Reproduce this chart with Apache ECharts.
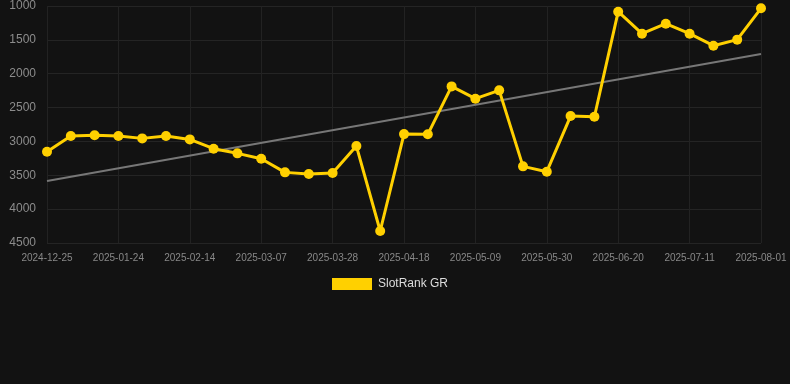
<!DOCTYPE html>
<html>
<head>
<meta charset="utf-8">
<script src="https://cdn.jsdelivr.net/npm/echarts@6/dist/echarts.min.js"></script>
<style>
html,body{margin:0;padding:0;background:#121212;}
#chart{width:790px;height:384px;}
</style>
</head>
<body>
<div id="chart"></div>
<script>
const dates = ['2024-12-25','2025-01-10','2025-01-17','2025-01-24','2025-01-31','2025-02-07','2025-02-14','2025-02-21','2025-02-28','2025-03-07','2025-03-14','2025-03-21','2025-03-28','2025-04-04','2025-04-11','2025-04-18','2025-04-25','2025-05-02','2025-05-09','2025-05-16','2025-05-23','2025-05-30','2025-06-06','2025-06-13','2025-06-20','2025-06-27','2025-07-04','2025-07-11','2025-07-18','2025-07-25','2025-08-01'];
const rank = [3152,2920,2910,2920,2955,2920,2970,3107,3176,3255,3457,3481,3467,3068,4323,2892,2895,2187,2369,2246,3368,3447,2625,2635,1084,1409,1261,1409,1586,1497,1034];
const trendStart = 3585;
const trendEnd = 1709;
const seriesName = 'SlotRank GR';

const chart = echarts.init(document.getElementById('chart'));
chart.setOption({
  backgroundColor: '#121212',
  animation: false,
  grid: {left: 47, right: 29, top: 6, bottom: 141},
  legend: {
    data: [seriesName],
    top: 273, left: 327,
    itemWidth: 40, itemHeight: 12,
    icon: 'rect',
    textStyle: {color: '#dddddd', fontSize: 12, padding: [0, 0, 0, 1], fontFamily: 'Arial, Liberation Sans, sans-serif'}
  },
  xAxis: {
    type: 'category',
    data: dates,
    boundaryGap: false,
    axisLine: {show: false},
    axisTick: {show: false},
    axisLabel: {interval: 2, color: '#888888', fontSize: 10, margin: 10, fontFamily: 'Arial, Liberation Sans, sans-serif'},
    splitLine: {show: true, interval: 2, lineStyle: {color: '#222222', width: 1}}
  },
  yAxis: {
    type: 'value',
    inverse: true,
    min: 1000, max: 4500, interval: 500,
    axisLine: {show: false},
    axisTick: {show: false},
    axisLabel: {color: '#8c8c8c', fontSize: 12, margin: 11, formatter: v => String(v), fontFamily: 'Arial, Liberation Sans, sans-serif'},
    splitLine: {lineStyle: {color: '#242424', width: 1}}
  },
  series: [
    {
      name: 'trend',
      type: 'line',
      data: [[dates[0], trendStart], [dates[dates.length - 1], trendEnd]],
      symbol: 'none',
      lineStyle: {color: '#777777', width: 2},
      z: 1,
      silent: true
    },
    {
      name: seriesName,
      type: 'line',
      data: rank,
      symbol: 'circle',
      symbolSize: 10,
      itemStyle: {color: '#FFD000'},
      lineStyle: {color: '#FFD000', width: 3},
      z: 3
    }
  ]
});
</script>
</body>
</html>
